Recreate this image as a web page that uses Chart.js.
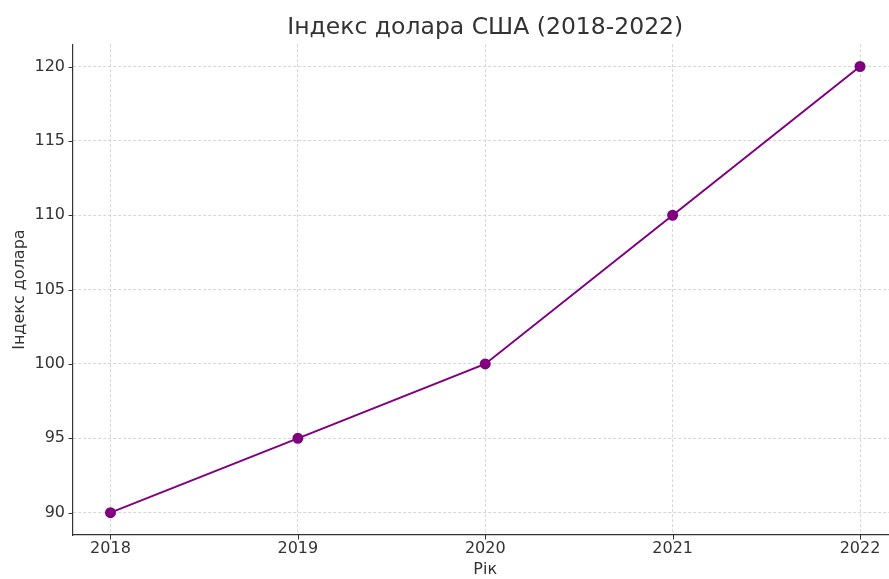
<!DOCTYPE html>
<html>
<head>
<meta charset="utf-8">
<script src="https://cdn.jsdelivr.net/npm/chart.js@4/dist/chart.umd.min.js"></script>
<style>
html,body{margin:0;padding:0;background:#fff;overflow:hidden;}
#wrap{width:889px;height:579px;position:relative;overflow:hidden;}
</style>
</head>
<body>
<div id="wrap"><canvas id="c" width="904" height="579"></canvas></div>
<script>
const years = [2018, 2019, 2020, 2021, 2022];
const dollarIndex = [90, 95, 100, 110, 120];
const yTicks = [90, 95, 100, 105, 110, 115, 120];
const titleText = 'Індекс долара США (2018-2022)';
const xLabel = 'Рік';
const yLabel = 'Індекс долара';

const FONT = "'DejaVu Sans', sans-serif";
const TEXT = '#333333';

const tickMarks = {
  id: 'tickMarks',
  afterDraw(chart) {
    const ctx = chart.ctx;
    const xs = chart.scales.x, ys = chart.scales.y;
    const a = chart.chartArea;
    ctx.save();
    ctx.strokeStyle = '#333333';
    ctx.lineWidth = 1;
    years.forEach(v => {
      const px = Math.round(xs.getPixelForValue(v)) + 0.5;
      ctx.beginPath(); ctx.moveTo(px, a.bottom); ctx.lineTo(px, a.bottom + 4.5); ctx.stroke();
    });
    yTicks.forEach(v => {
      const py = Math.round(ys.getPixelForValue(v)) + 0.5;
      ctx.beginPath(); ctx.moveTo(a.left, py); ctx.lineTo(a.left - 4.5, py); ctx.stroke();
    });
    ctx.restore();
  }
};

new Chart(document.getElementById('c'), {
  type: 'line',
  data: {
    datasets: [{
      data: years.map((y, i) => ({x: y, y: dollarIndex[i]})),
      borderColor: '#800080',
      backgroundColor: '#800080',
      borderWidth: 2,
      pointRadius: 4.5,
      pointHoverRadius: 4.5,
      tension: 0,
      fill: false
    }]
  },
  options: {
    responsive: false,
    animation: false,
    devicePixelRatio: 1,
    layout: {padding: 0},
    plugins: {
      legend: {display: false},
      tooltip: {enabled: false},
      title: {
        display: true,
        fullSize: false,
        text: titleText,
        color: TEXT,
        font: {family: FONT, size: 23.5, weight: 'normal'},
        padding: {top: 14, bottom: 2}
      }
    },
    scales: {
      x: {
        type: 'linear',
        min: 2017.8,
        max: 2022.2,
        afterBuildTicks(scale) { scale.ticks = years.map(v => ({value: v})); },
        afterFit(scale) { scale.height = 44; scale.paddingLeft = 0; scale.paddingRight = 0; },
        ticks: {
          color: TEXT,
          font: {family: FONT, size: 16},
          padding: 4.4,
          maxRotation: 0,
          callback: v => String(v)
        },
        grid: {
          color: '#cccccc',
          lineWidth: 0.8,
          drawTicks: false
        },
        border: {display: true, color: '#333333', width: 1.2, dash: [3, 2]},
        title: {
          display: true,
          text: xLabel,
          color: TEXT,
          font: {family: FONT, size: 16},
          padding: {top: 2.8, bottom: 0}
        }
      },
      y: {
        type: 'linear',
        min: 88.5,
        max: 121.5,
        afterBuildTicks(scale) { scale.ticks = yTicks.map(v => ({value: v})); },
        afterFit(scale) { scale.width = 73; scale.paddingTop = 0; scale.paddingBottom = 0; },
        ticks: {
          color: TEXT,
          font: {family: FONT, size: 16},
          padding: 8
        },
        grid: {
          color: '#cccccc',
          lineWidth: 0.8,
          drawTicks: false
        },
        border: {display: true, color: '#333333', width: 1.2, dash: [3, 2]},
        title: {
          display: true,
          text: yLabel,
          color: TEXT,
          font: {family: FONT, size: 16},
          padding: {top: 10, bottom: 0}
        }
      }
    }
  },
  plugins: [tickMarks]
});
</script>
</body>
</html>
